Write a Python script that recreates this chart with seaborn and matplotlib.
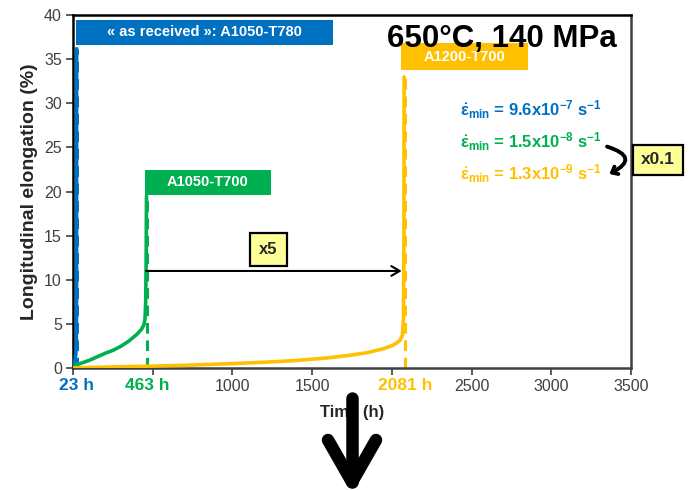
import numpy as np
import pandas as pd
import matplotlib
matplotlib.use("Agg")
import matplotlib.pyplot as plt
import seaborn as sns
from matplotlib.patches import Rectangle
from matplotlib.lines import Line2D

# ---------------- data ----------------
blue_t = [0, 3, 8, 14, 18, 21, 22.5, 23]
blue_e = [0, 0.3, 0.6, 1.0, 1.6, 3.0, 8.0, 36.2]

green_t = [0, 23, 60, 100, 150, 200, 250, 300, 350, 400, 430, 445, 452, 456, 459, 461]
green_e = [0, 0.35, 0.6, 0.85, 1.25, 1.65, 2.0, 2.45, 3.05, 3.8, 4.4, 4.9, 5.6, 7.5, 12.0, 19.5]

orange_t = [0, 200, 463, 700, 1000, 1200, 1400, 1600, 1740, 1850, 1950, 2010, 2050, 2066, 2073, 2076, 2077]
orange_e = [0, 0.1, 0.2, 0.3, 0.5, 0.65, 0.85, 1.15, 1.45, 1.75, 2.2, 2.6, 3.1, 3.7, 5.5, 15.0, 33.0]

series = ["A1050-T780", "A1050-T700", "A1200-T700"]
rupture_times = [23, 463, 2081]
rupture_elong = [36.2, 19.5, 33.0]
rupture_labels = ["23 h", "463 h", "2081 h"]
box_labels = ["\u00ab as received \u00bb: A1050-T780", "A1050-T700", "A1200-T700"]
eps_mantissa = ["9.6", "1.5", "1.3"]
eps_exponent = ["-7", "-8", "-9"]
colors = ["#0070C0", "#00B050", "#FFC000"]

xticks = [0, 500, 1000, 1500, 2000, 2500, 3000, 3500]
xticklabels = ["", "", "1000", "1500", "", "2500", "3000", "3500"]
yticks = [0, 5, 10, 15, 20, 25, 30, 35, 40]

df = pd.concat([
    pd.DataFrame({"t": blue_t, "e": blue_e, "s": series[0]}),
    pd.DataFrame({"t": green_t, "e": green_e, "s": series[1]}),
    pd.DataFrame({"t": orange_t, "e": orange_e, "s": series[2]}),
], ignore_index=True)

# ---------------- style ----------------
sns.set_style("ticks")
plt.rcParams["font.family"] = ["Liberation Sans", "DejaVu Sans"]
plt.rcParams["mathtext.fontset"] = "custom"
plt.rcParams["mathtext.rm"] = "Liberation Sans:bold"
plt.rcParams["mathtext.it"] = "Liberation Sans:bold"
plt.rcParams["mathtext.bf"] = "Liberation Sans:bold"

fig = plt.figure(figsize=(6.93, 4.90), dpi=100)
ax = fig.add_axes([0.1053, 0.249, 0.8052, 0.720])

# dashed rupture markers
for t, e, c in zip(rupture_times, rupture_elong, colors):
    ax.plot([t, t], [0, e], color=c, lw=2.2, ls=(0, (3.5, 2.2)), zorder=2)

sns.lineplot(data=df, x="t", y="e", hue="s", palette=dict(zip(series, colors)),
             sort=False, estimator=None, lw=2.6, legend=False, ax=ax, zorder=3)

ax.set_xlim(0, 3500)
ax.set_ylim(0, 40)
ax.set_xticks(xticks)
ax.set_xticklabels(xticklabels)
ax.set_yticks(yticks)
ax.tick_params(axis="both", direction="out", length=5, width=1.2, labelsize=11.5,
               labelcolor="#404040", color="#404040", pad=3)
ax.set_xlabel("Time (h)", fontsize=12, fontweight="bold", labelpad=8)
ax.set_ylabel("Longitudinal elongation (%)", fontsize=14, fontweight="bold", labelpad=4)

for side in ["left", "top"]:
    ax.spines[side].set_color("black")
    ax.spines[side].set_linewidth(1.8)
for side in ["right", "bottom"]:
    ax.spines[side].set_color("#404040")
    ax.spines[side].set_linewidth(1.8)

# coloured rupture-time tick labels
xtr = ax.get_xaxis_transform()
for t, lab, c in zip(rupture_times, rupture_labels, colors):
    ax.text(t, -0.028, lab, transform=xtr, ha="center", va="top", color=c,
            fontsize=12.5, fontweight="bold", clip_on=False)

# coloured label boxes
box_geom = [((19, 36.6), 1612, 2.9), ((452, 19.6), 790, 2.9), ((2058, 33.75), 796, 3.05)]
for (xy, w, h), lab, c in zip(box_geom, box_labels, colors):
    ax.add_patch(Rectangle(xy, w, h, facecolor=c, edgecolor="none", zorder=4))
    ax.text(xy[0] + w / 2, xy[1] + h / 2, lab, ha="center", va="center", color="white",
            fontsize=10.5, fontweight="bold", zorder=5)

# title
ax.text(2690, 37.3, "650\u00b0C, 140 MPa", ha="center", va="center", fontsize=22.5,
        fontweight="bold", color="black", zorder=6)

# minimum creep rates
eps_y = [28.6, 25.0, 21.4]
for m, ex, y, c in zip(eps_mantissa, eps_exponent, eps_y, colors):
    ax.text(2428, y, r"$\dot{\varepsilon}_{\mathrm{min}}$ = " + m + r"x10$^{" + ex + r"}$ s$^{-1}$",
            ha="left", va="baseline", color=c, fontsize=12, fontweight="bold", zorder=6)

# x5 arrow and box
ax.annotate("", xy=(2062, 11), xytext=(458, 11),
            arrowprops=dict(arrowstyle="->,head_length=0.6,head_width=0.35", lw=1.5, color="black",
                            shrinkA=0, shrinkB=0))
ax.text(1226, 13.45, "x5", ha="center", va="center", fontsize=12, fontweight="bold",
        bbox=dict(boxstyle="square,pad=0.55", facecolor="#FFFF99", edgecolor="black", lw=1.6),
        zorder=6)

# x0.1 curved arrow and box
ax.annotate("", xy=(3365, 22.0), xytext=(3350, 25.1),
            arrowprops=dict(arrowstyle="->,head_length=0.35,head_width=0.3", lw=2.8, color="black",
                            connectionstyle="arc3,rad=-1.2", shrinkA=0, shrinkB=0),
            annotation_clip=False)
ax.text(3670, 23.6, "x0.1", ha="center", va="center", fontsize=12.5, fontweight="bold",
        bbox=dict(boxstyle="square,pad=0.45", facecolor="#FFFF99", edgecolor="black", lw=1.6),
        zorder=6, clip_on=False)

# big down arrow under the chart
W, H = 693.0, 490.0
def fx(p):
    return p / W
def fy(p):
    return 1 - p / H
for (x0, y0), (x1, y1) in [((352, 398), (352, 482)), ((328, 440), (352, 482)), ((376, 440), (352, 482))]:
    fig.add_artist(Line2D([fx(x0), fx(x1)], [fy(y0), fy(y1)], transform=fig.transFigure,
                          color="black", lw=9, solid_capstyle="round"))

fig.savefig("out.png", dpi=100)
